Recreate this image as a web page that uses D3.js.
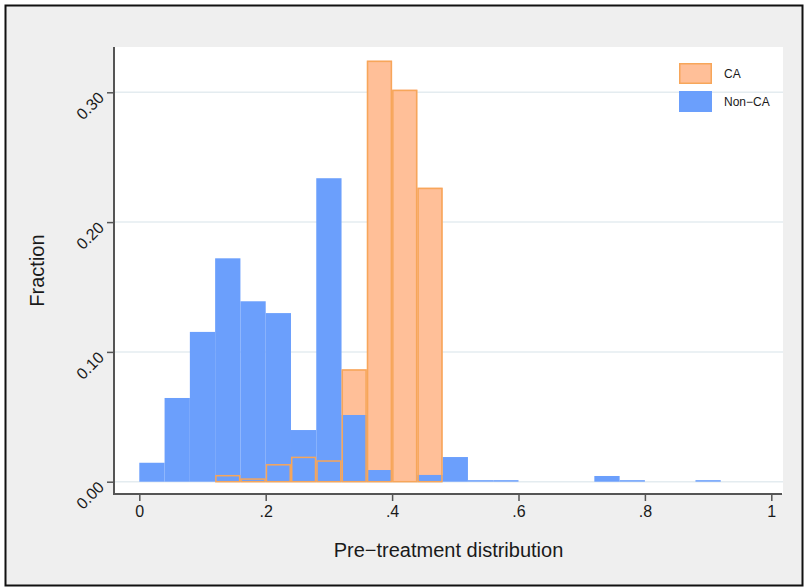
<!DOCTYPE html>
<html>
<head>
<meta charset="utf-8">
<script src="https://cdn.jsdelivr.net/npm/d3@7"></script>
<style>
  body { margin: 0; background: #fff; }
  text { font-family: "Liberation Sans", Arial, sans-serif; fill: #1a1a1a; }
</style>
</head>
<body>
<svg id="chart" width="804" height="587"></svg>
<script>
// bins of width .04 on [0, 1]
const binStarts = [0, .04, .08, .12, .16, .2, .24, .28, .32, .36, .4, .44, .48,
  .52, .56, .6, .64, .68, .72, .76, .8, .84, .88, .92, .96];
const binWidth = 0.04;

const nonCA = [0.0146, 0.0645, 0.1154, 0.1721, 0.139, 0.1299, 0.0398, 0.2338,
  0.0514, 0.009, 0, 0.0052, 0.019, 0.0008, 0.0008, 0, 0, 0, 0.0044, 0.0008,
  0, 0, 0.0008, 0, 0];
const CA = [0, 0, 0, 0.0052, 0.0026, 0.0136, 0.0193, 0.0165, 0.0866, 0.3244,
  0.302, 0.2265, 0, 0, 0, 0, 0, 0, 0, 0, 0, 0, 0, 0, 0];

const xTicks = [0, 0.2, 0.4, 0.6, 0.8, 1];
const xTickLabels = ["0", ".2", ".4", ".6", ".8", "1"];
const yTicks = [0, 0.1, 0.2, 0.3];
const yTickLabels = ["0.00", "0.10", "0.20", "0.30"];

const legendItems = ["CA", "Non\u2212CA"];

const blue = "#6b9ffc";
const peach = "#ffbf98";
const orange = "#f7a65a";

const svg = d3.select("#chart");

// outer frame
svg.append("rect")
  .attr("x", 5.5).attr("y", 5.5)
  .attr("width", 797).attr("height", 580)
  .attr("fill", "#efefef")
  .attr("stroke", "#111").attr("stroke-width", 2);

const plot = { left: 114, right: 783, top: 47, bottom: 494 };

svg.append("rect")
  .attr("x", plot.left).attr("y", plot.top)
  .attr("width", plot.right - plot.left).attr("height", plot.bottom - plot.top)
  .attr("fill", "#fff");

const x = d3.scaleLinear().domain([0, 1]).range([139.3, 771.3]);
const y = d3.scaleLinear().domain([0, 0.1]).range([481.7, 351.9]);

// gridlines
svg.append("g")
  .selectAll("line")
  .data(yTicks)
  .enter()
  .append("line")
  .attr("x1", plot.left + 1)
  .attr("x2", plot.right)
  .attr("y1", d => y(d))
  .attr("y2", d => y(d))
  .attr("stroke", "#e4ecf0")
  .attr("stroke-width", 1.5);

const caBins = binStarts.map((b, i) => ({ b, v: CA[i] })).filter(d => d.v > 0);
const ncBins = binStarts.map((b, i) => ({ b, v: nonCA[i] })).filter(d => d.v > 0);

// CA fill
svg.append("g")
  .selectAll("rect")
  .data(caBins)
  .enter()
  .append("rect")
  .attr("x", d => x(d.b))
  .attr("y", d => y(d.v))
  .attr("width", d => x(d.b + binWidth) - x(d.b))
  .attr("height", d => y(0) - y(d.v))
  .attr("fill", peach);

// Non-CA bars
svg.append("g")
  .selectAll("rect")
  .data(ncBins)
  .enter()
  .append("rect")
  .attr("x", d => x(d.b))
  .attr("y", d => y(d.v) - (d.v < 0.002 ? 0.5 : 0))
  .attr("width", d => x(d.b + binWidth) - x(d.b))
  .attr("height", d => Math.max(y(0) - y(d.v), 1.5))
  .attr("fill", blue);

// CA outlines
svg.append("g")
  .selectAll("rect")
  .data(caBins)
  .enter()
  .append("rect")
  .attr("x", d => x(d.b) + 0.75)
  .attr("y", d => y(d.v) + 0.75)
  .attr("width", d => x(d.b + binWidth) - x(d.b) - 1.5)
  .attr("height", d => y(0) - y(d.v) - 0.75)
  .attr("fill", "none")
  .attr("stroke", orange)
  .attr("stroke-width", 1.5);

// y axis
const yAxis = d3.axisLeft(y)
  .tickValues(yTicks)
  .tickSize(7)
  .tickFormat((d, i) => yTickLabels[i]);
const gy = svg.append("g")
  .attr("transform", `translate(${plot.left},0)`)
  .call(yAxis);
gy.select(".domain").attr("d", `M0,${plot.top}V${plot.bottom + 1}`)
  .attr("stroke", "#555").attr("stroke-width", 2);
gy.selectAll(".tick line").attr("stroke", "#555").attr("stroke-width", 1.5);
gy.selectAll(".tick text")
  .attr("x", null).attr("dy", null)
  .attr("text-anchor", "end")
  .attr("transform", "translate(-9,6) rotate(-45)")
  .style("font-size", "16px");

// x axis
const xAxis = d3.axisBottom(x)
  .tickValues(xTicks)
  .tickSize(7)
  .tickFormat((d, i) => xTickLabels[i]);
const gx = svg.append("g")
  .attr("transform", `translate(0,${plot.bottom})`)
  .call(xAxis);
gx.select(".domain").attr("d", `M${plot.left - 1},0H${plot.right - 1}`)
  .attr("stroke", "#555").attr("stroke-width", 2);
gx.selectAll(".tick line").attr("stroke", "#555").attr("stroke-width", 1.5);
gx.selectAll(".tick text")
  .attr("y", 12)
  .style("font-size", "16px");

// axis titles
svg.append("text")
  .attr("x", (plot.left + plot.right) / 2)
  .attr("y", 557)
  .attr("text-anchor", "middle")
  .style("font-size", "20px")
  .text("Pre\u2212treatment distribution");

svg.append("text")
  .attr("transform", `translate(44,${(plot.top + plot.bottom) / 2}) rotate(-90)`)
  .attr("text-anchor", "middle")
  .style("font-size", "20px")
  .text("Fraction");

// legend
const legend = svg.append("g").attr("transform", "translate(679,63)");
const li = legend.selectAll("g")
  .data(legendItems)
  .enter()
  .append("g")
  .attr("transform", (d, i) => `translate(0,${i * 28})`);
li.append("rect")
  .attr("x", 0.75).attr("y", 0.75)
  .attr("width", 31.5).attr("height", 19.5)
  .attr("fill", (d, i) => i === 0 ? peach : blue)
  .attr("stroke", (d, i) => i === 0 ? orange : blue)
  .attr("stroke-width", 1.5);
li.append("text")
  .attr("x", 45)
  .attr("y", 15)
  .style("font-size", "12px")
  .text(d => d);
</script>
</body>
</html>
